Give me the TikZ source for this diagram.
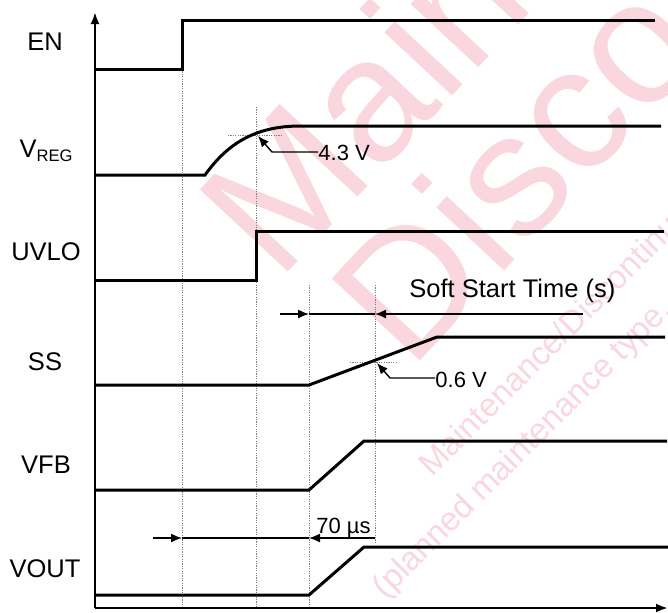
\documentclass[tikz,border=0pt]{standalone}
\usepackage{fontspec}
\setmainfont{Liberation Sans}
\usepackage{tikz}
\usetikzlibrary{arrows.meta,positioning,calc}
\definecolor{wmpink}{RGB}{250,214,222}

\begin{document}
\begin{tikzpicture}[x=0.5pt, y=-0.5pt, line join=miter,
  sig/.style={line width=1.5pt},
  axis/.style={line width=1.2pt, -{Latex[length=6pt,width=4.5pt]}},
  guide/.style={gray, line width=0.5pt, dash pattern=on 0.6pt off 0.6pt},
  dim/.style={line width=0.7pt, -{Latex[length=5.5pt,width=4.5pt]}},
  lbl/.style={font=\fontsize{12.75}{15}\selectfont, inner sep=0pt, anchor=base},
  val/.style={font=\fontsize{11}{13}\selectfont, inner sep=0pt, anchor=base west},
  wm/.style={text=wmpink, anchor=base west, inner sep=0pt}]
\useasboundingbox (0,0) rectangle (668,612);

% watermark
\begin{scope}
  \clip (0,0) rectangle (668,612);
  \node[wm, rotate=47, font=\fontsize{87.5}{88}\selectfont] (wmA) at (278,283) {Maintenance/};
  \node[wm, rotate=47, font=\fontsize{87.5}{88}\selectfont] (wmB) at (410,372) {Discontinued};
  \node[wm, rotate=45, font=\fontsize{16.5}{17}\selectfont] (wmC) at (432,478) {Maintenance/Discontinued};
  \node[wm, rotate=45, font=\fontsize{16.5}{17}\selectfont] (wmD) at (385,600) {(planned maintenance type, may be discontinued)};
\end{scope}

% event times
\coordinate (t0) at (182,0);
\coordinate (t1) at (256,0);
\coordinate (t2) at (309,0);
\coordinate (t3) at (375,0);

% guides
\draw[guide] (t0 |- 0,69) -- (t0 |- 0,608);
\draw[guide] (t1 |- 0,107) -- (t1 |- 0,608);
\draw[guide] (t2 |- 0,285) -- (t2 |- 0,608);
\draw[guide] (t3 |- 0,285) -- (t3 |- 0,543);
\draw[guide] (228,135) -- (282,135);
\draw[guide] (350,362) -- (398,362);

% axes
\coordinate (org) at (95,608);
\draw[axis] (org) -- (95,12);
\draw[axis] (org) -- (668,608);

% signal names
\node[lbl] (en) at (45,50) {EN};
\node[lbl] (vreg) at (46,157) {V\raisebox{-0.3ex}{\fontsize{8.3}{9}\selectfont REG}};
\node[lbl] (uvlo) at (46,260) {UVLO};
\node[lbl] (ss) at (45,370) {SS};
\node[lbl] (vfb) at (46,473) {VFB};
\node[lbl] (vout) at (45,577) {VOUT};

% waveforms
\draw[sig] (95,69) -- (t0 |- 0,69) -- (t0 |- 0,20) -- (655,20);
\draw[sig] (95,175) -- (205,175) .. controls (228,143) and (255,127) .. (297,126) -- (661,126);
\draw[sig] (95,280) -- (t1 |- 0,280) -- (t1 |- 0,231) -- (664,231);
\draw[sig] (95,385) -- (t2 |- 0,385) -- (437,337) -- (665,337);
\draw[sig] (95,490) -- (t2 |- 0,490) -- (364,441) -- (667,441);
\draw[sig] (95,595) -- (t2 |- 0,595) -- (364,547) -- (668,547);

% thresholds
\node[val] (v43) at (318,160) {4.3 V};
\draw[dim] (v43.west |- 0,152) -- (272,152) -- (258,136);
\node[val] (v06) at (435,387) {0.6 V};
\draw[dim] (v06.west |- 0,378) -- (390,378) -- (377,363);

% soft start time
\node[lbl, anchor=base west] (tss) at (409,297) {Soft Start Time (s)};
\draw[dim] (280,314) -- (t2 |- 0,314);
\draw[dim] (583,314) -- (t3 |- 0,314);
\draw[line width=0.7pt] (t2 |- 0,314) -- (t3 |- 0,314);

% delay
\node[val] (t70) at (316,533) {70 µs};
\draw[dim] (153,538) -- (t0 |- 0,538);
\draw[dim] (t3 |- 0,538) -- (t2 |- 0,538);
\draw[line width=0.7pt] (t0 |- 0,538) -- (t2 |- 0,538);
\end{tikzpicture}
\end{document}
